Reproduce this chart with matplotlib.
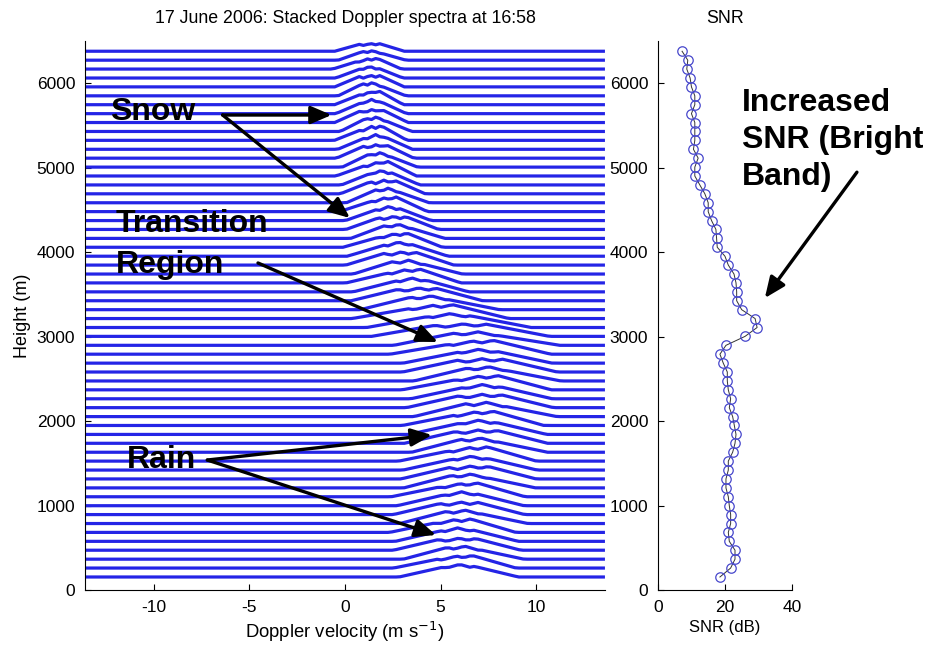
import matplotlib
matplotlib.use("Agg")
import matplotlib.pyplot as plt
import numpy as np

plt.rcParams['font.family'] = ['Liberation Sans', 'DejaVu Sans']
plt.rcParams['axes.unicode_minus'] = False

# range gate heights (m), bottom to top
heights = [154, 260, 365, 471, 576, 682, 787, 893, 998, 1104,
           1209, 1315, 1420, 1526, 1631, 1737, 1842, 1948, 2053, 2159,
           2264, 2370, 2475, 2581, 2686, 2792, 2897, 3003, 3108, 3214,
           3319, 3425, 3530, 3636, 3741, 3847, 3952, 4058, 4163, 4269,
           4374, 4480, 4585, 4691, 4796, 4902, 5007, 5113, 5218, 5324,
           5429, 5535, 5640, 5746, 5851, 5957, 6062, 6168, 6273, 6379]

# SNR profile (dB), bottom to top
snr = [18.5, 21.7, 23.0, 23.0, 21.3, 21.0, 21.7, 21.7, 21.3, 21.0,
       20.3, 20.3, 21.0, 21.0, 22.3, 23.0, 23.3, 22.8, 22.3, 21.3,
       21.7, 21.0, 20.7, 20.7, 19.5, 18.5, 20.3, 26.0, 29.6, 29.0,
       25.0, 23.5, 23.5, 23.3, 22.7, 21.0, 20.0, 17.7, 17.5, 17.3,
       16.0, 15.0, 15.0, 14.0, 12.5, 11.0, 11.0, 12.0, 10.6, 11.0,
       11.0, 11.0, 10.0, 11.0, 11.0, 10.0, 9.6, 8.6, 8.9, 7.2]

# spectral peak velocity (m/s) per gate, bottom to top
spec_vel = [6.0, 6.0, 6.0, 5.9, 5.9, 5.9, 6.0, 6.0, 6.1, 6.2,
            6.3, 6.5, 6.6, 6.7, 6.8, 6.9, 7.0, 7.0, 7.1, 7.1,
            7.2, 7.2, 7.2, 7.1, 7.0, 6.9, 6.6, 6.1, 5.5, 4.8,
            4.2, 3.8, 3.5, 3.3, 3.1, 2.9, 2.8, 2.7, 2.6, 2.5,
            2.3, 2.2, 2.1, 2.0, 1.9, 1.8, 1.7, 1.6, 1.6, 1.5,
            1.5, 1.4, 1.4, 1.4, 1.3, 1.3, 1.3, 1.3, 1.3, 1.3]

# spectral half width at noise floor (m/s) per gate, bottom to top
spec_width = [3.2, 3.2, 3.2, 3.3, 3.3, 3.3, 3.4, 3.4, 3.4, 3.5,
              3.5, 3.5, 3.6, 3.6, 3.6, 3.7, 3.7, 3.7, 3.8, 3.8,
              3.8, 3.9, 3.9, 4.0, 4.0, 4.2, 4.4, 4.6, 4.4, 4.1,
              3.7, 3.4, 3.1, 3.0, 2.9, 2.8, 2.7, 2.6, 2.5, 2.4,
              2.3, 2.3, 2.2, 2.2, 2.1, 2.1, 2.0, 2.0, 2.0, 1.9,
              1.9, 1.9, 1.9, 1.8, 1.8, 1.8, 1.8, 1.8, 1.8, 1.8]

# spectral peak height above noise (m on the stacked scale), bottom to top
spec_peak = [150, 150, 155, 155, 160, 160, 160, 160, 165, 165,
             165, 165, 165, 170, 170, 170, 170, 170, 170, 170,
             170, 170, 170, 170, 165, 165, 160, 160, 165, 165,
             165, 165, 165, 165, 165, 170, 170, 170, 170, 170,
             170, 175, 175, 175, 175, 175, 175, 175, 175, 175,
             175, 170, 170, 165, 160, 150, 140, 130, 115, 100]

# sub-peak structure (offsets and heights relative to the main peak), cycled over gates
lobe_offsets = [[-0.27, 0.0, 0.24], [-0.36, -0.05, 0.2],
                [-0.2, 0.08, 0.33], [-0.3, 0.02, 0.28]]
lobe_heights = [[0.78, 1.0, 0.84], [0.7, 0.95, 1.0],
                [0.9, 1.0, 0.72], [0.82, 0.93, 0.9]]

vel = np.linspace(-13.6, 13.6, 128)
blue = '#2424e6'

fig = plt.figure(figsize=(9.35, 6.47), dpi=100)
ax = fig.add_axes([0.0909, 0.0881, 0.5561, 0.8485])
ax2 = fig.add_axes([0.7037, 0.0881, 0.1433, 0.8485])

# stacked spectra
for i, (h, v0, w, pk) in enumerate(zip(heights, spec_vel, spec_width, spec_peak)):
    offs = lobe_offsets[i % 4]
    rels = lobe_heights[i % 4]
    spec = np.zeros_like(vel)
    for off, rel in zip(offs, rels):
        tent = 1 - np.abs(vel - v0 - off * w) / (0.72 * w)
        spec = np.maximum(spec, rel * np.clip(tent, 0, None))
    ax.plot(vel, h + pk * spec, color=blue, lw=2.3, solid_capstyle='butt')

ax.set_xlim(-13.6, 13.6)
ax.set_ylim(0, 6500)
ax.set_xticks([-10, -5, 0, 5, 10])
ax.set_yticks(range(0, 7000, 1000))
ax.set_title("17 June 2006: Stacked Doppler spectra at 16:58", fontsize=12.8, pad=13)
ax.set_xlabel("Doppler velocity (m s$^{-1}$)", fontsize=13.3)
ax.set_ylabel("Height (m)", fontsize=13)

# SNR profile
ax2.plot(snr, heights, '-', color='#333333', lw=0.7)
ax2.plot(snr, heights, 'o', mfc='none', mec='#4848cc', ms=6.8, mew=0.9)
ax2.set_xlim(0, 40)
ax2.set_ylim(0, 6500)
ax2.set_xticks([0, 20, 40])
ax2.set_yticks(range(0, 7000, 1000))
ax2.set_title("SNR", fontsize=12.8, pad=13)
ax2.set_xlabel("SNR (dB)", fontsize=12)

for a in (ax, ax2):
    a.spines['top'].set_visible(False)
    a.spines['right'].set_visible(False)
    a.tick_params(direction='in', length=4, labelsize=12.5, pad=7)

# annotations
tfont = dict(fontsize=23, fontweight='bold', color='k', ha='left', va='center')
aprops = dict(arrowstyle='-|>,head_length=0.7,head_width=0.3', color='k', lw=2.4,
              mutation_scale=18, shrinkA=0, shrinkB=0)

ax.text(-12.3, 5660, "Snow", **tfont)
ax.annotate('', xy=(-0.7, 5624), xytext=(-6.4, 5624), arrowprops=aprops)
ax.annotate('', xy=(0.26, 4404), xytext=(-6.4, 5624), arrowprops=aprops)

ax.text(-12.0, 4333, "Transition", **tfont)
ax.text(-12.0, 3848, "Region", **tfont)
ax.annotate('', xy=(4.86, 2936), xytext=(-4.55, 3872), arrowprops=aprops)

ax.text(-11.4, 1539, "Rain", **tfont)
ax.annotate('', xy=(4.55, 1835), xytext=(-7.2, 1539), arrowprops=aprops)
ax.annotate('', xy=(4.76, 651), xytext=(-7.2, 1539), arrowprops=aprops)

ax2.text(25.1, 5328, "Increased\nSNR (Bright\nBand)", linespacing=1.3, clip_on=False, **tfont)
ax2.annotate('', xy=(31.9, 3456), xytext=(59.4, 4947), arrowprops=aprops,
             annotation_clip=False)

plt.savefig("out.png", dpi=100)
